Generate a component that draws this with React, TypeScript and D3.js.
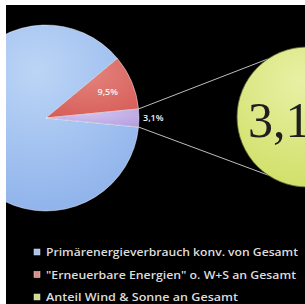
import React from 'react';
import * as d3 from 'd3';

// chart data
const categories = [
    'Primärenergieverbrauch konv. von Gesamt',
    '"Erneuerbare Energien" o. W+S an Gesamt',
    'Anteil Wind & Sonne an Gesamt',
];
const shares = [87.4, 9.5, 3.1];
const sliceLabels = ['', '9,5%', '3,1%'];
const zoomLabel = '3,1%';
const legendWidths = [252, 250, 192];

const sliceColors = ['#8aafea', '#d65c57', '#b59fe0'];
const sliceLight = ['#bcd5f6', '#e4837d', '#d0c2f0'];
const legendColors = ['#a9c2ee', '#d98c8a', '#cfdc86'];

const W = 305;
const H = 304;

export default function App() {
    const cx = 46, cy = 118, r = 93;
    const zx = 307, zy = 117, zr = 70;

    const pieGen = d3.pie<number>()
        .sort(null)
        .value(d => d)
        .startAngle(Math.PI / 2 + (shares[2] / 100) * Math.PI)
        .endAngle(Math.PI / 2 + (shares[2] / 100) * Math.PI + 2 * Math.PI);
    const arcs = pieGen(shares);
    const arcGen = d3.arc<d3.PieArcDatum<number>>().innerRadius(0).outerRadius(r);
    const labelArc = d3.arc<d3.PieArcDatum<number>>().innerRadius(r * 0.72).outerRadius(r * 0.72);

    const small = arcs[2];
    const edge = (a: number) => [cx + r * Math.sin(a), cy - r * Math.cos(a)];
    const p1 = edge(small.startAngle);
    const p2 = edge(small.endAngle);
    const onZoom = (deg: number) => [zx + zr * Math.cos(deg * Math.PI / 180), zy + zr * Math.sin(deg * Math.PI / 180)];
    const q1 = onZoom(236);
    const q2 = onZoom(124);

    const legendY = d3.scalePoint<number>().domain([0, 1, 2]).range([256, 301]);

    return (
        <div style={{ position: 'fixed', left: 0, top: 0 }}>
            <svg width={W} height={H} style={{ display: 'block', background: '#000' }}>
                <defs>
                    {sliceColors.map((c, i) => (
                        <radialGradient key={i} id={'g' + i} cx="45%" cy="25%" r="85%">
                            <stop offset="0%" stopColor={sliceLight[i]} />
                            <stop offset="100%" stopColor={c} />
                        </radialGradient>
                    ))}
                    <radialGradient id="gz" cx="45%" cy="25%" r="80%">
                        <stop offset="0%" stopColor="#e8f0a4" />
                        <stop offset="100%" stopColor="#cfdf66" />
                    </radialGradient>
                </defs>
                <rect x={0} y={0} width={W} height={H} fill="#000" />
                <g transform={`translate(${cx},${cy})`}>
                    {arcs.map((a, i) => (
                        <path key={i} d={arcGen(a) || ''} fill={`url(#g${i})`}
                            stroke="rgba(255,255,255,0.55)" strokeWidth={0.8} />
                    ))}
                    <text x={labelArc.centroid(arcs[1])[0]} y={labelArc.centroid(arcs[1])[1]}
                        dy="0.35em" textAnchor="middle" fill="#f4f4f4" fontSize={9}
                        fontWeight={600} fontFamily="Open Sans, sans-serif">{sliceLabels[1]}</text>
                </g>
                <text x={cx + r + 4} y={cy} dy="0.35em" fill="#f4f4f4" fontSize={9}
                    fontWeight={600} fontFamily="Open Sans, sans-serif">{sliceLabels[2]}</text>
                <line x1={p1[0]} y1={p1[1]} x2={q1[0]} y2={q1[1]} stroke="#bdbdbd" strokeWidth={1} />
                <line x1={p2[0]} y1={p2[1]} x2={q2[0]} y2={q2[1]} stroke="#bdbdbd" strokeWidth={1} />
                <circle cx={zx} cy={zy} r={zr} fill="url(#gz)" stroke="#5c6030" strokeWidth={0.8} />
                <text x={248} y={137} fill="#1e1e1e" fontSize={50}
                    fontFamily="Liberation Serif, serif">{zoomLabel}</text>
                {categories.map((c, i) => (
                    <g key={i}>
                        <rect x={34} y={legendY(i)! - 7} width={6} height={6}
                            fill={legendColors[i]} stroke="#e0e0e0" strokeWidth={0.5} />
                        <text x={46} y={legendY(i)} fill="#dcdcdc" fontSize={10} fontWeight={600}
                            fontFamily="Open Sans, sans-serif" textLength={legendWidths[i]}
                            lengthAdjust="spacingAndGlyphs">{c}</text>
                    </g>
                ))}
                <rect x={0} y={0} width={W} height={5} fill="#fff" />
                <rect x={0} y={0} width={6} height={H} fill="#fff" />
            </svg>
        </div>
    );
}
